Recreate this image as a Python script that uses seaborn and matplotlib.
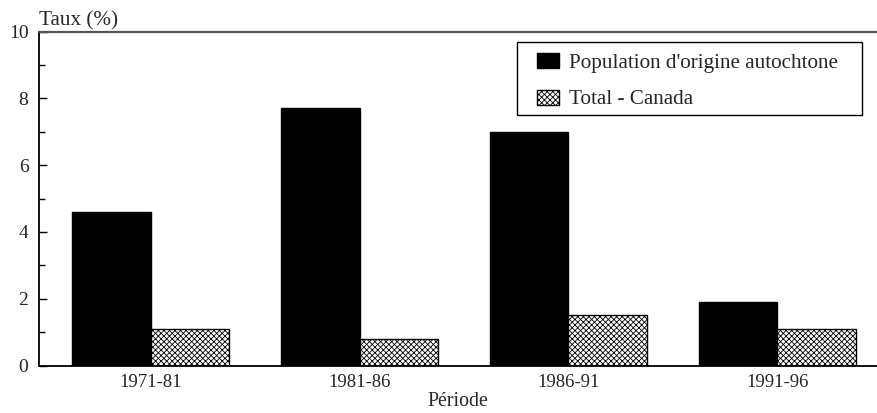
# ==========================================================
# TAUX (%) PAR PERIODE - POPULATION AUTOCHTONE VS CANADA
# ==========================================================

import pandas as pd
import numpy as np

import matplotlib
matplotlib.use("Agg")
import matplotlib.pyplot as plt
from matplotlib.patches import Patch, Rectangle
from matplotlib.ticker import MultipleLocator
import seaborn as sns

# ==========================================================
# DATA
# ==========================================================

periodes = ["1971-81", "1981-86", "1986-91", "1991-96"]

autochtone = [4.6, 7.7, 7.0, 1.9]

total_canada = [1.1, 0.8, 1.5, 1.1]

series = ["Population d'origine autochtone", "Total - Canada"]

df = pd.DataFrame({
    "Période": periodes * 2,
    "Taux": autochtone + total_canada,
    "Série": [series[0]] * len(periodes) + [series[1]] * len(periodes),
})

# ==========================================================
# STYLE
# ==========================================================

sns.set_theme(style="white")
plt.rcParams["font.family"] = ["Liberation Serif", "DejaVu Serif"]
plt.rcParams["font.size"] = 13.5
plt.rcParams["hatch.linewidth"] = 0.6

fig = plt.figure(figsize=(8.78, 4.13), dpi=100)
ax = fig.add_axes([39.5 / 878, 1 - 365.5 / 413, 837.5 / 878, 333.8 / 413])

# ==========================================================
# BARS
# ==========================================================

sns.barplot(
    data=df,
    x="Période",
    y="Taux",
    hue="Série",
    palette=["black", "white"],
    edgecolor="black",
    linewidth=1.0,
    width=0.75,
    gap=0,
    legend=False,
    ax=ax,
)

for bar in ax.containers[1]:
    bar.set_hatch("xxxxxx")

# ==========================================================
# AXES
# ==========================================================

ax.set_xlim(-0.532, 3.477)
ax.set_ylim(0, 10)
ax.yaxis.set_major_locator(MultipleLocator(2))
ax.yaxis.set_minor_locator(MultipleLocator(1))
ax.tick_params(axis="y", which="major", direction="in", length=6, width=1,
               color="black", left=True, labelsize=14, pad=8)
ax.tick_params(axis="y", which="minor", direction="in", length=4, width=1,
               color="black", left=True)
ax.tick_params(axis="x", length=0, labelsize=13.5, pad=6)

for side in ["left", "bottom"]:
    ax.spines[side].set_color("black")
    ax.spines[side].set_linewidth(1.3)
ax.spines["top"].set_color("#555555")
ax.spines["top"].set_linewidth(1.6)
ax.spines["right"].set_visible(False)

ax.set_xlabel("Période", fontsize=14.3, labelpad=1)
ax.set_ylabel("")
ax.text(0.0, 1.004, "Taux (%)", transform=ax.transAxes,
        ha="left", va="bottom", fontsize=15.2)

# ==========================================================
# LEGEND
# ==========================================================

handles = [
    Patch(facecolor="black", edgecolor="black"),
    Patch(facecolor="white", edgecolor="black", hatch="xxxxxx"),
]

leg = ax.legend(
    handles,
    series,
    loc="upper right",
    bbox_to_anchor=(0.9675, 0.970),
    borderaxespad=0,
    fontsize=15.2,
    frameon=False,
    handlelength=1.04,
    handleheight=0.71,
    handletextpad=0.5,
    labelspacing=0.78,
    borderpad=0.55,
)

# legend frame, wider on the sides than on top and bottom
ax.add_patch(Rectangle((0.5698, 0.7504), 0.9824 - 0.5698, 0.970 - 0.7504,
                       transform=ax.transAxes, fill=False,
                       edgecolor="black", linewidth=1.0, zorder=5))

fig.savefig("out.png", dpi=100)
